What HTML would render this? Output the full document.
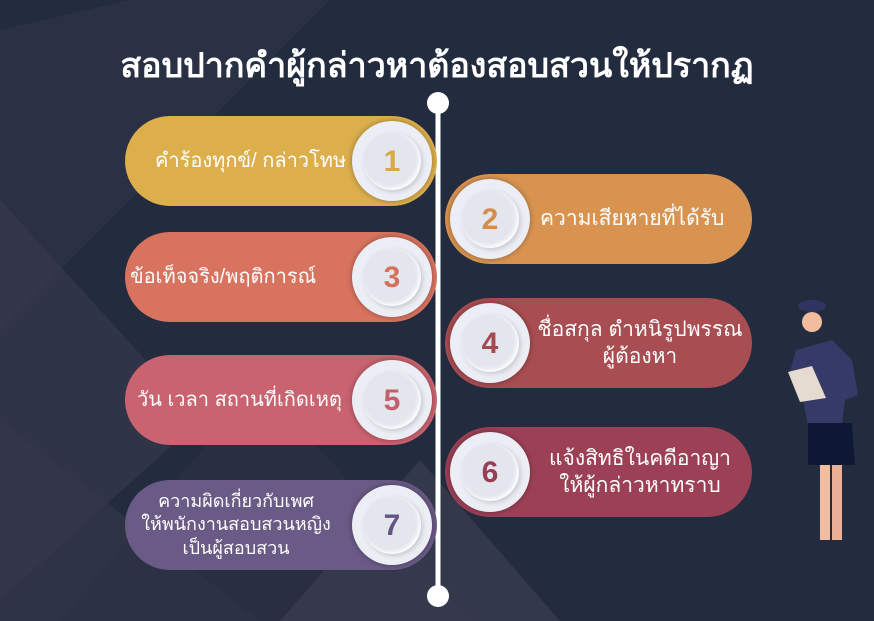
<!DOCTYPE html>
<html><head><meta charset="utf-8"><style>
body{margin:0;width:874px;height:621px;overflow:hidden;background:#222c3e;font-family:"Liberation Sans","Noto Sans CJK SC",sans-serif;}
.w{position:relative;width:874px;height:621px;}
.t{position:absolute;left:0;width:874px;top:38px;text-align:center;color:#fff;font-weight:bold;font-size:34px;}
.p{position:absolute;height:90px;border-radius:45px;color:#fff;font-size:21px;display:flex;align-items:center;line-height:1.3;text-align:center;}
.l{font-size:20px;}
.c{position:absolute;top:5px;width:80px;height:80px;border-radius:50%;background:#eceef5;box-shadow:0 0 6px rgba(0,0,0,.35);}
.c b{position:absolute;left:11px;top:11px;width:58px;height:58px;border-radius:50%;background:#e4e6ee;box-shadow:-2px -2px 4px #fff inset,2px 2px 5px rgba(0,0,0,.15);display:flex;align-items:center;justify-content:center;font-size:30px;font-weight:900;}
</style></head><body><div class="w">
<svg width="874" height="621" style="position:absolute;left:0;top:0">
<polygon points="0,30 130,0 330,0 0,330" fill="#2e3348" opacity=".7"/>
<polygon points="0,200 200,420 0,600" fill="#3a3a4f" opacity=".6"/>
<polygon points="0,420 260,621 0,621" fill="#34364a" opacity=".7"/>
<polygon points="60,621 260,380 470,621" fill="#2c3044" opacity=".7"/>
<polygon points="280,621 420,460 560,621" fill="#3a3d50" opacity=".7"/>
<line x1="438" y1="103" x2="438" y2="596" stroke="#fff" stroke-width="5"/>
<circle cx="438" cy="103" r="11" fill="#fff"/><circle cx="438" cy="596" r="11" fill="#fff"/>
<g>
<ellipse cx="812" cy="306" rx="14" ry="6" fill="#2f3460"/>
<circle cx="812" cy="322" r="10" fill="#f1bd9e"/>
<path d="M796 350 L832 340 L852 360 L858 395 L845 400 L842 425 L808 425 L800 385 L790 372Z" fill="#353a68"/>
<path d="M808 423 L852 423 L855 465 L808 465Z" fill="#0d1834"/>
<rect x="820" y="465" width="10" height="75" fill="#f1bd9e"/><rect x="832" y="465" width="10" height="75" fill="#eab095"/>
<polygon points="788,372 812,366 826,398 800,402" fill="#e6dbd0"/>
</g>
</svg>
<div class="t">สอบปากคำผู้กล่าวหาต้องสอบสวนให้ปรากฏ</div>

<div class="p l" style="left:125px;top:116px;width:312px;background:#dcae4c"><span style="margin-left:30px">คำร้องทุกข์/ กล่าวโทษ</span><div class="c" style="left:227px"><b style="color:#d9a946">1</b></div></div>
<div class="p l" style="left:125px;top:232px;width:312px;background:#d8735f"><span style="margin-left:5px">ข้อเท็จจริง/พฤติการณ์</span><div class="c" style="left:227px"><b style="color:#d4705b">3</b></div></div>
<div class="p l" style="left:125px;top:355px;width:312px;background:#c8636f"><span style="margin-left:12px">วัน เวลา สถานที่เกิดเหตุ</span><div class="c" style="left:227px"><b style="color:#c4606c">5</b></div></div>
<div class="p" style="left:125px;top:480px;width:312px;background:#6a5a86;font-size:18px"><span style="width:222px">ความผิดเกี่ยวกับเพศ<br>ให้พนักงานสอบสวนหญิง<br>เป็นผู้สอบสวน</span><div class="c" style="left:227px"><b style="color:#655582">7</b></div></div>

<div class="p" style="left:445px;top:174px;width:307px;background:#d89350"><div class="c" style="left:5px"><b style="color:#d48e4c">2</b></div><span style="margin-left:95px">ความเสียหายที่ได้รับ</span></div>
<div class="p" style="left:445px;top:298px;width:307px;background:#a84d52"><div class="c" style="left:5px"><b style="color:#a24a4f">4</b></div><span style="margin-left:90px;width:210px">ชื่อสกุล ตำหนิรูปพรรณ<br>ผู้ต้องหา</span></div>
<div class="p" style="left:445px;top:427px;width:307px;background:#9c4056"><div class="c" style="left:5px"><b style="color:#973e53">6</b></div><span style="margin-left:90px;width:210px">แจ้งสิทธิในคดีอาญา<br>ให้ผู้กล่าวหาทราบ</span></div>
</div></body></html>
